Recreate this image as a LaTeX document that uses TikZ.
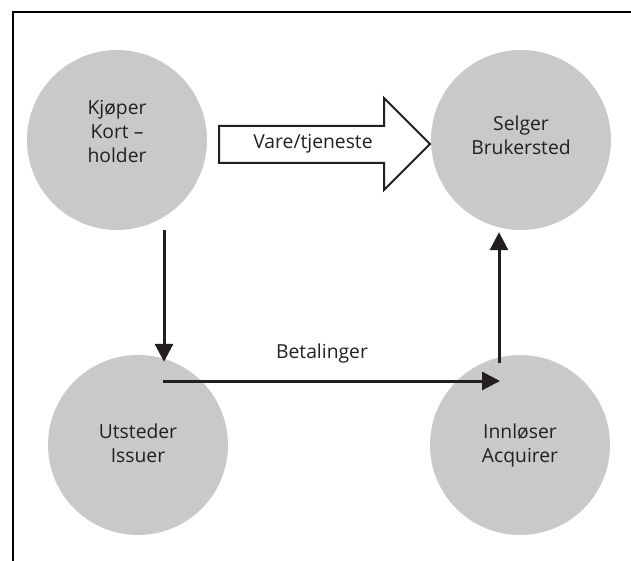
\documentclass[tikz,border=0pt]{standalone}
\usepackage{fontspec}
\setmainfont{Open Sans}
\usetikzlibrary{arrows.meta,calc}
\definecolor{discgrey}{HTML}{C8C9CB}
\definecolor{ink}{HTML}{231F20}
\tikzset{
  party/.style={circle,fill=discgrey,minimum size=180pt,inner sep=0pt},
  lbl/.style={align=center,text=ink,font=\fontsize{19.3}{24}\selectfont,inner sep=0pt},
  flow/.style={draw=ink,line width=3pt,-{Triangle[length=18pt,width=18pt]}},
  frame/.style={draw=black,line width=2pt},
  blockarrow/.style={draw=ink,fill=white,line width=2pt,line join=miter}
}
\begin{document}
\begin{tikzpicture}[x=1pt,y=-1pt]
\useasboundingbox (0,0) rectangle (631,561);
\draw[frame] (13,561) -- (13,12) -- (631,12);
% discs
\node[party] (kj) at (117,140) {};
\node[party] (sel) at (521,140) {};
\node[party] (ut) at (138,445) {};
\node[party] (inn) at (520,445) {};
% labels
\node[lbl] (kjt) at ($(kj)+(0,-8)$) {Kjøper\\Kort –\\holder};
\node[lbl] (selt) at ($(sel)+(0,-5)$) {Selger\\Brukersted};
\node[lbl] (utt) at ($(ut)+(0,-2)$) {Utsteder\\Issuer};
\node[lbl] (innt) at ($(inn)+(0,0)$) {Innløser\\Acquirer};
% block arrow
\draw[blockarrow] (219,126) -- (384,126) -- (384,98) -- (430,144) -- (384,190) -- (384,163) -- (219,163) -- cycle;
\node[lbl] (vare) at (313,144) {Vare/tjeneste};
% flows
\draw[flow] ($(kj.south)+(47,0)$) -- ($(ut.north)+(26,7)$);
\draw[flow] ($(ut.center)+(25,-64)$) -- ($(inn.center)+(-20,-64)$);
\draw[flow] ($(inn.center)+(-21,-82)$) -- ($(sel.south)+(-22,2)$);
\node[lbl] (bet) at (322,353) {Betalinger};
\end{tikzpicture}
\end{document}
